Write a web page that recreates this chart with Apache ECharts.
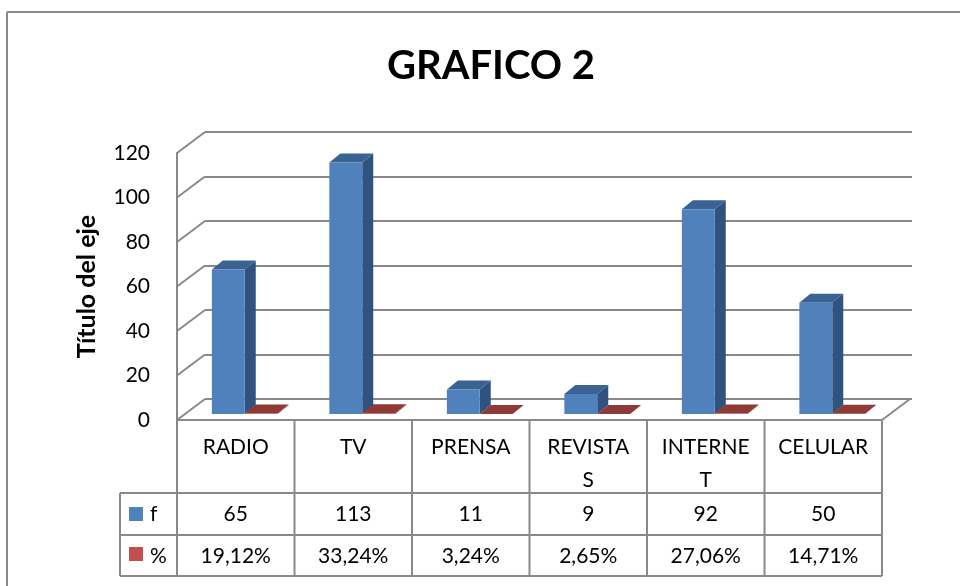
<!DOCTYPE html>
<html><head><meta charset="utf-8">
<script src="https://cdn.jsdelivr.net/npm/echarts@6/dist/echarts.min.js"></script>
<style>html,body{margin:0;padding:0;background:#fff}#c{width:960px;height:586px}</style>
</head><body><div id="c"></div>
<script>
// ---- data ----
const categories = ['RADIO', 'TV', 'PRENSA', 'REVISTAS', 'INTERNET', 'CELULAR'];
const tickLabels = ['RADIO', 'TV', 'PRENSA', 'REVISTA\nS', 'INTERNE\nT', 'CELULAR'];
const seriesNames = ['f', '%'];
const fValues = [65, 113, 11, 9, 92, 50];
const pctValues = [0.1912, 0.3324, 0.0324, 0.0265, 0.2706, 0.1471];
const yTicks = [0, 20, 40, 60, 80, 100, 120];
const chartTitle = 'GRAFICO 2';
const yAxisTitle = 'Título del eje';

// ---- style ----
const FONT = 'Lato';
const GRAY = '#898989';
const WALL_DX = 28, WALL_DY = 21;
const BAR_SHIFT_X = 9, BAR_SHIFT_Y = 6;
const BAR_DX = 11, BAR_DY = 9;
const BLUE = { front: '#4F81BD', side: '#30527F', top: '#3A6292' };
const RED = { front: '#C0504D', side: '#7A2C2A', top: '#8E3A37' };
const ROW_F_Y = 514, ROW_P_Y = 556, TABLE_TOP = 420, TABLE_BOTTOM = 576;

function fmtPct(v) { return (v * 100).toFixed(2).replace('.', ',') + '%'; }

function box(x0, x1, yb, yt, c) {
  return [
    { type: 'polygon', shape: { points: [[x1, yb], [x1 + BAR_DX, yb - BAR_DY], [x1 + BAR_DX, yt - BAR_DY], [x1, yt]] }, style: { fill: c.side } },
    { type: 'polygon', shape: { points: [[x0, yt], [x1, yt], [x1 + BAR_DX, yt - BAR_DY], [x0 + BAR_DX, yt - BAR_DY]] }, style: { fill: c.top } },
    { type: 'rect', shape: { x: x0, y: yt, width: x1 - x0, height: Math.max(yb - yt, 0) }, style: { fill: c.front } }
  ];
}

const barData = categories.map((c, i) => [i, fValues[i], pctValues[i]]);

const option = {
  animation: false,
  backgroundColor: '#fff',
  grid: [
    { left: 177, top: 153, width: 705, height: 267 },
    { left: 205, top: 132, width: 707, height: 267 }
  ],
  xAxis: [
    {
      type: 'category', gridIndex: 0, data: tickLabels,
      axisLine: { show: false }, axisTick: { show: false },
      axisLabel: { margin: 11, verticalAlign: 'top', lineHeight: 33, fontSize: 21, fontFamily: FONT, color: '#000', interval: 0 }
    },
    { type: 'category', gridIndex: 1, data: categories, show: false }
  ],
  yAxis: [
    {
      type: 'value', gridIndex: 0, min: 0, max: 120, interval: 20,
      name: yAxisTitle, nameLocation: 'middle', nameGap: 78, nameRotate: 90,
      nameTextStyle: { fontSize: 25, fontWeight: 'bold', fontFamily: FONT, color: '#000' },
      axisLine: { show: true, lineStyle: { color: GRAY, width: 2 } },
      axisTick: { show: false }, splitLine: { show: false },
      axisLabel: { margin: 27, fontSize: 21, fontFamily: FONT, color: '#000' }
    },
    {
      type: 'value', gridIndex: 1, min: 0, max: 120, interval: 20,
      axisLine: { show: false }, axisTick: { show: false }, axisLabel: { show: false },
      splitLine: { show: true, lineStyle: { color: GRAY, width: 2 } }
    }
  ],
  series: [
    {
      type: 'custom', xAxisIndex: 0, yAxisIndex: 0, clip: false, silent: true,
      data: yTicks.map(v => [0, v]),
      renderItem: function (params, api) {
        const cs = params.coordSys;
        const y = api.coord([0, api.value(1)])[1];
        const children = [{ type: 'line', shape: { x1: cs.x, y1: y, x2: cs.x + WALL_DX, y2: y - WALL_DY }, style: { stroke: GRAY, lineWidth: 2 } }];
        if (api.value(1) === 0) {
          children.push({ type: 'line', shape: { x1: cs.x + cs.width, y1: y, x2: cs.x + cs.width + WALL_DX, y2: y - WALL_DY }, style: { stroke: GRAY, lineWidth: 2 } });
        }
        return { type: 'group', children: children };
      }
    },
    {
      type: 'custom', name: seriesNames[0], xAxisIndex: 0, yAxisIndex: 0, clip: false, silent: true,
      data: barData,
      renderItem: function (params, api) {
        const i = api.value(0);
        const base = api.coord([i, 0]);
        const cx = base[0] + BAR_SHIFT_X, yb = base[1] - BAR_SHIFT_Y;
        const w = api.size([1, 0])[0] * 0.28;
        const yf = api.coord([i, api.value(1)])[1] - BAR_SHIFT_Y;
        const yp = api.coord([i, api.value(2)])[1] - BAR_SHIFT_Y;
        return { type: 'group', children: box(cx - w, cx, yb, yf, BLUE).concat(box(cx, cx + w, yb, yp, RED)) };
      }
    },
    {
      type: 'custom', name: 'table', xAxisIndex: 0, yAxisIndex: 0, clip: false, silent: true,
      data: barData,
      renderItem: function (params, api) {
        const i = api.value(0);
        const cx = api.coord([i, 0])[0];
        const half = api.size([1, 0])[0] / 2;
        return {
          type: 'group', children: [
            { type: 'line', shape: { x1: cx + half, y1: TABLE_TOP, x2: cx + half, y2: TABLE_BOTTOM }, style: { stroke: GRAY, lineWidth: 2 } },
            { type: 'text', style: { text: String(api.value(1)), x: cx, y: ROW_F_Y, align: 'center', verticalAlign: 'middle', fontSize: 21, fontFamily: FONT, fill: '#000' } },
            { type: 'text', style: { text: fmtPct(api.value(2)), x: cx, y: ROW_P_Y, align: 'center', verticalAlign: 'middle', fontSize: 21, fontFamily: FONT, fill: '#000' } }
          ]
        };
      }
    }
  ],
  graphic: [
    { type: 'line', shape: { x1: 7, y1: 12, x2: 7, y2: 600 }, style: { stroke: GRAY, lineWidth: 2 } },
    { type: 'line', shape: { x1: 7, y1: 12, x2: 970, y2: 12 }, style: { stroke: GRAY, lineWidth: 2 } },
    { type: 'text', x: 491, y: 66, style: { text: chartTitle, align: 'center', verticalAlign: 'middle', fontSize: 40, fontWeight: 'bold', fontFamily: FONT, fill: '#000' } },
    { type: 'line', shape: { x1: 177, y1: TABLE_TOP, x2: 882, y2: TABLE_TOP }, style: { stroke: GRAY, lineWidth: 2 } },
    { type: 'line', shape: { x1: 120, y1: 493, x2: 882, y2: 493 }, style: { stroke: GRAY, lineWidth: 2 } },
    { type: 'line', shape: { x1: 120, y1: 535, x2: 882, y2: 535 }, style: { stroke: GRAY, lineWidth: 2 } },
    { type: 'line', shape: { x1: 120, y1: TABLE_BOTTOM, x2: 882, y2: TABLE_BOTTOM }, style: { stroke: GRAY, lineWidth: 2 } },
    { type: 'line', shape: { x1: 120, y1: 493, x2: 120, y2: TABLE_BOTTOM }, style: { stroke: GRAY, lineWidth: 2 } },
    { type: 'line', shape: { x1: 177, y1: TABLE_TOP, x2: 177, y2: TABLE_BOTTOM }, style: { stroke: GRAY, lineWidth: 2 } },
    { type: 'rect', shape: { x: 129, y: 507, width: 14, height: 14 }, style: { fill: BLUE.front } },
    { type: 'text', x: 150, y: ROW_F_Y, style: { text: seriesNames[0], verticalAlign: 'middle', fontSize: 21, fontFamily: FONT, fill: '#000' } },
    { type: 'rect', shape: { x: 129, y: 547, width: 14, height: 14 }, style: { fill: RED.front } },
    { type: 'text', x: 150, y: ROW_P_Y, style: { text: seriesNames[1], verticalAlign: 'middle', fontSize: 21, fontFamily: FONT, fill: '#000' } }
  ]
};

const chart = echarts.init(document.getElementById('c'), null, { renderer: 'canvas' });
chart.setOption(option);
</script>
</body></html>
